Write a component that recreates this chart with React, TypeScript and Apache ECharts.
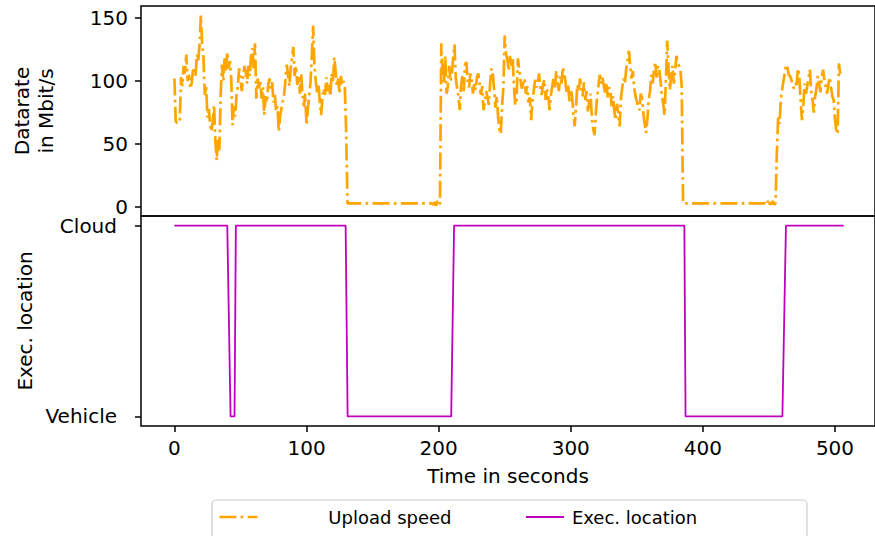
import React, { useEffect, useRef } from "react";
import * as echarts from "echarts";

const FONT = "DejaVu Sans";

// x-axis tick labels (seconds)
const timeTicks = [0, 100, 200, 300, 400, 500];
// upper y-axis tick labels (Mbit/s)
const rateTicks = [0, 50, 100, 150];
// lower y-axis categories
const locations = ["Vehicle", "Cloud"];

// Upload speed samples: [time in s, Mbit/s]
const uploadSpeed: [number, number][] = [
  [0, 102], [1, 68], [2, 67], [3, 67], [4, 67], [5, 103], [6, 96], [7, 112], [8, 106], [9, 121],
  [10, 100], [11, 105], [12, 94], [13, 98], [14, 108], [15, 111], [16, 104], [17, 121], [18, 116], [19, 128],
  [20, 152], [21, 130], [22, 118], [23, 89], [24, 96], [25, 71], [26, 78], [27, 66], [28, 60], [29, 68],
  [30, 81], [31, 52], [32, 37], [33, 55], [34, 45], [35, 89], [36, 113], [37, 100], [38, 118], [39, 108],
  [40, 123], [41, 110], [42, 116], [43, 102], [44, 65], [45, 80], [46, 72], [47, 89], [48, 96], [49, 110],
  [50, 102], [51, 92], [52, 104], [53, 112], [54, 107], [55, 98], [56, 112], [57, 104], [58, 120], [59, 126],
  [60, 110], [61, 130], [62, 86], [63, 102], [64, 94], [65, 100], [66, 86], [67, 95], [68, 73], [69, 88],
  [70, 83], [71, 97], [72, 102], [73, 94], [74, 99], [75, 83], [76, 89], [77, 76], [78, 80], [79, 60],
  [80, 72], [81, 78], [82, 84], [83, 89], [84, 100], [85, 113], [86, 105], [87, 96], [88, 110], [89, 118],
  [90, 127], [91, 104], [92, 112], [93, 97], [94, 104], [95, 90], [96, 106], [97, 88], [98, 80], [99, 90],
  [100, 65], [101, 78], [102, 88], [103, 99], [104, 120], [105, 144], [106, 112], [107, 100], [108, 91], [109, 98],
  [110, 84], [111, 73], [112, 86], [113, 94], [114, 89], [115, 103], [116, 92], [117, 97], [118, 88], [119, 106],
  [120, 100], [121, 119], [122, 108], [123, 96], [124, 102], [125, 90], [126, 104], [127, 97], [128, 100], [129, 95],
  [130, 60], [131, 3], [140, 3], [150, 3], [160, 3], [170, 3], [180, 3], [190, 3], [195, 3], [196, 2],
  [197, 4], [198, 1], [199, 5], [200, 2], [201, 3], [202, 130], [203, 109], [204, 98], [205, 120], [206, 90],
  [207, 96], [208, 112], [209, 100], [210, 106], [211, 118], [212, 129], [213, 102], [214, 94], [215, 88], [216, 77],
  [217, 97], [218, 104], [219, 92], [220, 113], [221, 115], [222, 100], [223, 95], [224, 106], [225, 101], [226, 90],
  [227, 98], [228, 93], [229, 103], [230, 106], [231, 98], [232, 89], [233, 96], [234, 77], [235, 84], [236, 92],
  [237, 87], [238, 81], [239, 99], [240, 110], [241, 105], [242, 93], [243, 79], [244, 88], [245, 72], [246, 61],
  [247, 58], [248, 80], [249, 95], [250, 136], [251, 121], [252, 117], [253, 108], [254, 120], [255, 112], [256, 119],
  [257, 96], [258, 81], [259, 85], [260, 118], [261, 109], [262, 100], [263, 94], [264, 98], [265, 102], [266, 90],
  [267, 96], [268, 83], [269, 87], [270, 69], [271, 84], [272, 92], [273, 101], [274, 95], [275, 98], [276, 106],
  [277, 93], [278, 89], [279, 97], [280, 101], [281, 85], [282, 94], [283, 88], [284, 77], [285, 89], [286, 96],
  [287, 103], [288, 95], [289, 108], [290, 100], [291, 92], [292, 104], [293, 98], [294, 111], [295, 106], [296, 99],
  [297, 90], [298, 97], [299, 84], [300, 93], [301, 88], [302, 74], [303, 64], [304, 80], [305, 97], [306, 92],
  [307, 102], [308, 95], [309, 88], [310, 99], [311, 85], [312, 92], [313, 76], [314, 84], [315, 90], [316, 70],
  [317, 62], [318, 57], [319, 75], [320, 88], [321, 97], [322, 105], [323, 98], [324, 103], [325, 96], [326, 91],
  [327, 99], [328, 87], [329, 95], [330, 93], [331, 80], [332, 88], [333, 76], [334, 69], [335, 82], [336, 74],
  [337, 64], [338, 86], [339, 95], [340, 102], [341, 98], [342, 110], [343, 116], [344, 124], [345, 112], [346, 102],
  [347, 108], [348, 95], [349, 88], [350, 84], [351, 79], [352, 77], [353, 90], [354, 86], [355, 74], [356, 66],
  [357, 59], [358, 70], [359, 85], [360, 92], [361, 105], [362, 98], [363, 109], [364, 115], [365, 103], [366, 112],
  [367, 109], [368, 100], [369, 88], [370, 82], [371, 73], [372, 100], [373, 132], [374, 110], [375, 93], [376, 104],
  [377, 112], [378, 98], [379, 108], [380, 120], [381, 114], [382, 112], [383, 109], [384, 95], [385, 3], [395, 3],
  [405, 3], [415, 3], [425, 3], [435, 3], [447, 3], [448, 2], [449, 5], [450, 1], [451, 4], [452, 2],
  [453, 5], [454, 2], [455, 3], [456, 43], [457, 71], [458, 66], [459, 85], [460, 93], [461, 100], [462, 106],
  [463, 113], [464, 111], [465, 105], [466, 104], [467, 101], [468, 96], [469, 94], [470, 98], [471, 97], [472, 110],
  [473, 104], [474, 85], [475, 69], [476, 80], [477, 98], [478, 90], [479, 96], [480, 102], [481, 109], [482, 92],
  [483, 85], [484, 75], [485, 88], [486, 94], [487, 104], [488, 98], [489, 91], [490, 103], [491, 109], [492, 100],
  [493, 96], [494, 90], [495, 97], [496, 103], [497, 95], [498, 88], [499, 85], [500, 70], [501, 61], [502, 58],
  [503, 114], [504, 106], [505, 110],
];

// Execution location: time (s) and level (0 = Vehicle, 1 = Cloud)
const execTimes = [0, 40, 42.5, 45.5, 46.5, 129.6, 131.1, 209.5, 211.7, 386.0, 386.9, 460.2, 462.9, 506.6];
const execLevels = [1, 1, 0, 0, 1, 1, 0, 0, 1, 1, 0, 0, 1, 1];

const seriesNames = ["Upload speed", "Exec. location"];

const ORANGE = "#FFA500";
const MAGENTA = "#BF00BF";
const DASH_DOT = [17, 4.3, 2.7, 4.3];

export default function App() {
  const ref = useRef<HTMLDivElement>(null);

  useEffect(() => {
    if (!ref.current) return;
    const chart = echarts.init(ref.current, undefined, { renderer: "svg" });
    const textBase = { fontFamily: FONT, color: "#000", fontSize: 20 };
    const legendText = { fontFamily: FONT, color: "#000", fontSize: 18 };
    const tick = { show: true, length: 6, inside: false, lineStyle: { color: "#000", width: 1.5 } };
    const xMin = -25.3;
    const xMax = 530.3;

    chart.setOption({
      animation: false,
      backgroundColor: "#fff",
      grid: [
        { left: 141, top: 6, width: 738, height: 210, show: true, borderColor: "#000", borderWidth: 1.5, backgroundColor: "transparent" },
        { left: 141, top: 216, width: 738, height: 210, show: true, borderColor: "#000", borderWidth: 1.5, backgroundColor: "transparent" },
      ],
      xAxis: [
        {
          gridIndex: 0, type: "value", min: xMin, max: xMax, position: "bottom",
          axisLine: { show: false, onZero: false }, axisTick: { show: false }, axisLabel: { show: false }, splitLine: { show: false },
        },
        {
          gridIndex: 1, type: "value", min: xMin, max: xMax, position: "bottom",
          axisLine: { show: false, onZero: false },
          axisTick: { ...tick, customValues: timeTicks },
          axisLabel: { ...textBase, margin: 12, customValues: timeTicks },
          splitLine: { show: false },
          name: "Time in seconds", nameLocation: "middle", nameGap: 40,
          nameTextStyle: { ...textBase },
        },
      ],
      yAxis: [
        {
          gridIndex: 0, type: "value", min: -7, max: 159.5, position: "left",
          axisLine: { show: false, onZero: false },
          axisTick: { ...tick, customValues: rateTicks },
          axisLabel: { ...textBase, margin: 13, customValues: rateTicks },
          splitLine: { show: false },
          name: "Datarate\nin Mbit/s", nameLocation: "middle", nameGap: 83, nameRotate: 90,
          nameTextStyle: { ...textBase, lineHeight: 24 },
        },
        {
          gridIndex: 1, type: "value", min: -0.05, max: 1.05, position: "left",
          axisLine: { show: false, onZero: false },
          axisTick: { ...tick, customValues: [0, 1] },
          axisLabel: {
            ...textBase, margin: 24, customValues: [0, 1],
            formatter: (v: number) => locations[Math.round(v)] ?? "",
          },
          splitLine: { show: false },
          name: "Exec. location", nameLocation: "middle", nameGap: 99, nameRotate: 90,
          nameTextStyle: { ...textBase },
        },
      ],
      legend: [
        {
          data: [seriesNames[0]], left: 218, top: 508, itemWidth: 38, itemHeight: 14,
          itemStyle: { opacity: 0 },
          lineStyle: { width: 2.7, color: ORANGE, type: DASH_DOT },
          textStyle: { ...legendText, padding: [0, 0, 0, 66] }, padding: 0,
        },
        {
          data: [seriesNames[1]], left: 525, top: 508, itemWidth: 38, itemHeight: 14,
          itemStyle: { opacity: 0 },
          lineStyle: { width: 1.8, color: MAGENTA, type: "solid" },
          textStyle: { ...legendText, padding: [0, 0, 0, 3] }, padding: 0,
        },
      ],
      graphic: [
        {
          type: "rect", z: 0,
          shape: { x: 212, y: 500, width: 595, height: 60, r: 4 },
          style: { fill: "#fff", stroke: "#cccccc", lineWidth: 1.2 },
        },
      ],
      series: [
        {
          name: seriesNames[0], type: "line", xAxisIndex: 0, yAxisIndex: 0,
          data: uploadSpeed, symbol: "none", showSymbol: false,
          lineStyle: { color: ORANGE, width: 2.7, type: DASH_DOT },
          itemStyle: { color: ORANGE },
        },
        {
          name: seriesNames[1], type: "line", xAxisIndex: 1, yAxisIndex: 1,
          data: execTimes.map((t, i) => [t, execLevels[i]]), symbol: "none", showSymbol: false,
          lineStyle: { color: MAGENTA, width: 1.8 },
          itemStyle: { color: MAGENTA },
        },
      ],
    });
    return () => chart.dispose();
  }, []);

  return <div ref={ref} style={{ position: "absolute", left: 0, top: 0, width: 875, height: 536 }} />;
}
